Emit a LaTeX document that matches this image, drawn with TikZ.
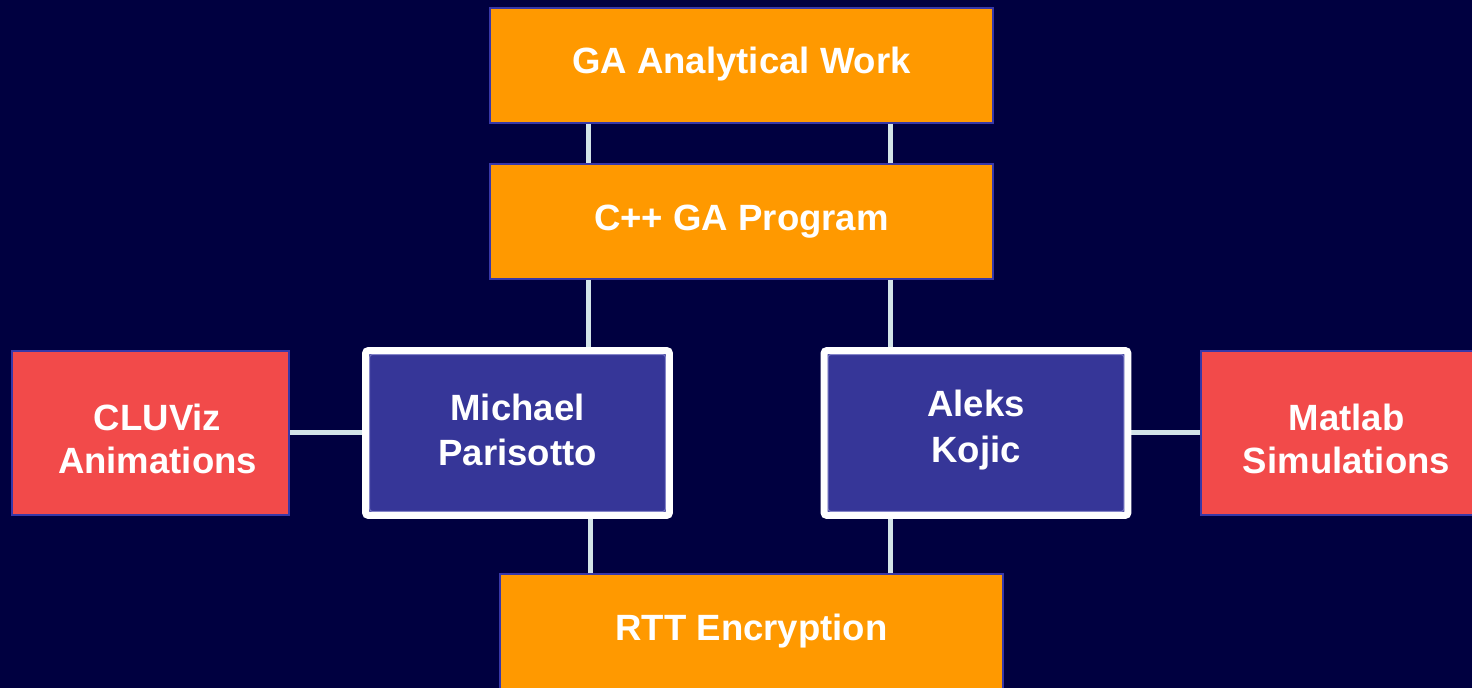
\documentclass[tikz,border=0pt]{standalone}
\usepackage{fontspec}
\setmainfont{Liberation Sans}
\usetikzlibrary{backgrounds}
\pgfdeclarelayer{edges}
\pgfsetlayers{background,edges,main}

\definecolor{navy}{RGB}{0,0,64}
\definecolor{boxorange}{RGB}{255,153,0}
\definecolor{boxred}{RGB}{242,74,74}
\definecolor{boxblue}{RGB}{54,54,152}
\definecolor{edgeblue}{RGB}{56,56,168}
\definecolor{linkcol}{RGB}{211,228,232}

% two centred lines, moved vertically by #1 and kept at their own size
\newcommand{\twolines}[4]{\raisebox{#1}[\height][\depth]{\begin{tabular}{@{}c@{}}#3\\[#2]#4\end{tabular}}}

\tikzset{
  x=0.02cm, y=-0.02cm,
  basebox/.style={rectangle, inner sep=0pt, outer sep=0pt, align=center,
    text=white, font=\bfseries\fontsize{20.8}{25.5}\selectfont},
  taskbox/.style={basebox, fill=boxorange, draw=edgeblue, line width=0.035cm,
    minimum width=10.06cm, minimum height=2.30cm},
  toolbox/.style={basebox, fill=boxred, draw=edgeblue, line width=0.035cm,
    minimum width=5.54cm, minimum height=3.28cm},
  personbox/.style={basebox, fill=boxblue, draw=white, line width=0.14cm,
    rounded corners=0.06cm, minimum width=6.08cm, minimum height=3.30cm,
    path picture={\draw[edgeblue!70!white, line width=0.02cm]
      ([shift={(0.08cm,-0.08cm)}]path picture bounding box.north west) rectangle
      ([shift={(-0.08cm,0.08cm)}]path picture bounding box.south east);}},
  link/.style={draw=linkcol, line width=0.1cm}
}

\begin{document}
\begin{tikzpicture}
\useasboundingbox (0,0) rectangle (1472,688);
\clip (0,0) rectangle (1472,688);
\begin{pgfonlayer}{background}
  \fill[navy] (0,0) rectangle (1472,688);
\end{pgfonlayer}

% tasks, people and tools
\node[taskbox] (ga)  at (741.5,65.5)  {\raisebox{1pt}[\height][\depth]{GA Analytical Work}};
\node[taskbox] (cpp) at (741.5,221.5) {C++ GA Program};
\node[taskbox] (rtt) at (751.5,631.5) {RTT Encryption};
\node[personbox] (mp) at (517.5,433) {\twolines{-0.6pt}{0pt}{Michael}{Parisotto}};
\node[personbox] (ak) at (976,433) {\twolines{1.4pt}{0.6pt}{Aleks}{Kojic}};
\node[toolbox] (clu) at (150.5,433) {\hspace*{8pt}\twolines{-5.7pt}{-0.9pt}{CLUViz}{Animations}};
\node[toolbox] (mat) at (1339.5,433) {\hspace*{8pt}\twolines{-5.7pt}{-0.9pt}{Matlab}{Simulations}};

% columns of the vertical links
\coordinate (lx) at (588,0);
\coordinate (lx2) at (590,0);
\coordinate (rx) at (890,0);

\begin{pgfonlayer}{edges}
  \draw[link] (ga.south -| lx) -- (cpp.north -| lx);
  \draw[link] (ga.south -| rx) -- (cpp.north -| rx);
  \draw[link] (cpp.south -| lx) -- (mp.north -| lx);
  \draw[link] (cpp.south -| rx) -- (ak.north -| rx);
  \draw[link] (mp.south -| lx2) -- (rtt.north -| lx2);
  \draw[link] (ak.south -| rx) -- (rtt.north -| rx);
  \draw[link] (clu.east) -- (mp.west);
  \draw[link] (ak.east) -- (mat.west);
\end{pgfonlayer}
\end{tikzpicture}
\end{document}
